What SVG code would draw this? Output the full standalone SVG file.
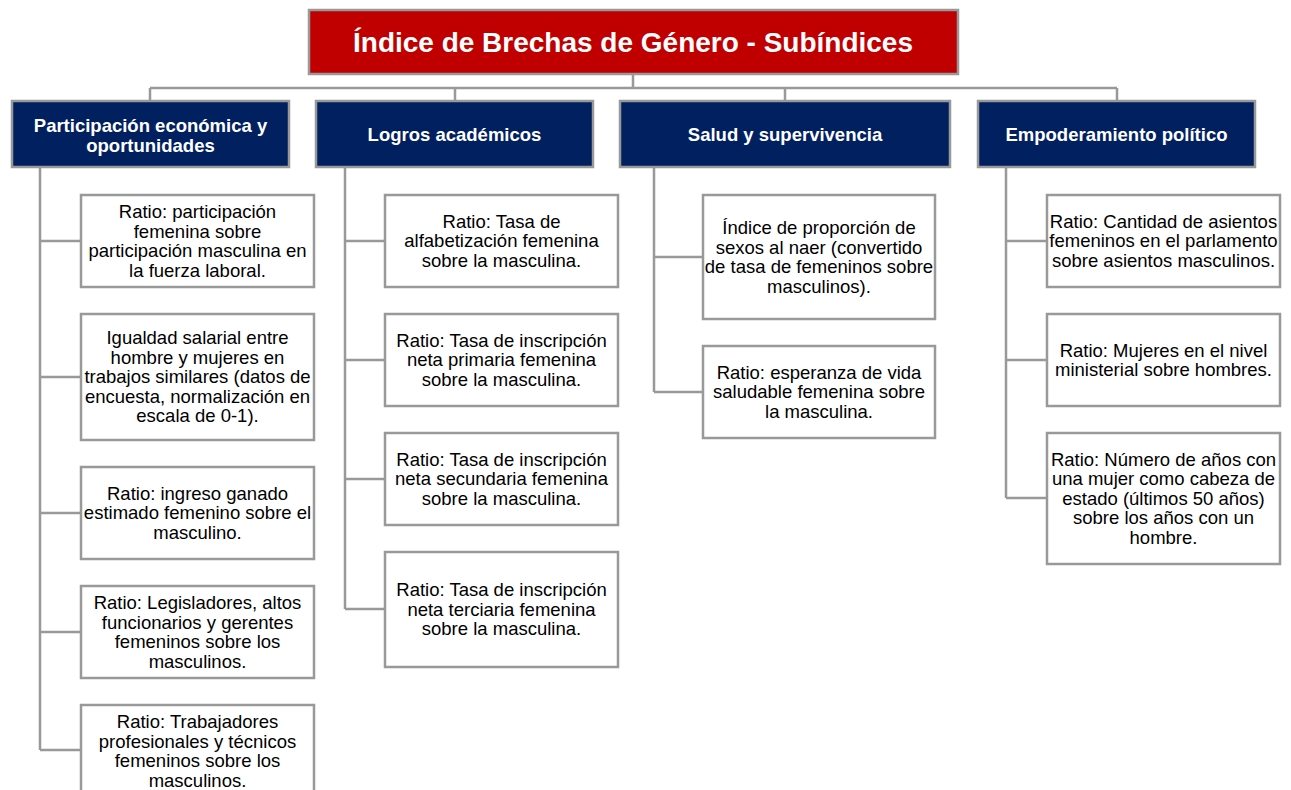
<svg xmlns="http://www.w3.org/2000/svg" width="1291" height="790" viewBox="0 0 1291 790">
<style>
.title{fill:#C00000;stroke:#999999;stroke-width:2.5}
.hdr{fill:#002060;stroke:#999999;stroke-width:2.5}
.leaf{fill:#FFFFFF;stroke:#999999;stroke-width:2.5}
.tt{font-family:"Liberation Sans",Arial,sans-serif;font-weight:bold;font-size:28px;fill:#FFFFFF;text-anchor:middle}
.ht{font-family:"Liberation Sans",Arial,sans-serif;font-weight:bold;font-size:18.5px;fill:#FFFFFF;text-anchor:middle}
.lt{font-family:"Liberation Sans",Arial,sans-serif;font-size:18.5px;fill:#000000;text-anchor:middle}
.conn{fill:none;stroke:#999999;stroke-width:2.5}
</style>
<rect width="1291" height="790" fill="#FFFFFF"/>
<g id="connectors" class="conn">
<path d="M633 74 V88 M150 88 H1117 M150 88 V101 M455 88 V101 M785 88 V101 M1117 88 V101"/>
<path d="M40 167 V750 M40 241 H81 M40 377 H81 M40 513 H81 M40 632 H81 M40 750 H81"/>
<path d="M345 167 V609 M345 241 H385 M345 360 H385 M345 479 H385 M345 609 H385"/>
<path d="M654 167 V392 M654 257 H703 M654 392 H703"/>
<path d="M1006 167 V498 M1006 241 H1047 M1006 360 H1047 M1006 498 H1047"/>
</g>
<g id="title">
<rect class="title" x="309" y="10" width="649" height="64"/>
<text class="tt" x="633" y="52" textLength="560" lengthAdjust="spacingAndGlyphs">Índice de Brechas de Género - Subíndices</text>
</g>
<g id="h1">
<rect class="hdr" x="12" y="101" width="277" height="66"/>
<text class="ht" x="150.5"><tspan x="150.5" y="132">Participación económica y</tspan><tspan x="150.5" y="152">oportunidades</tspan></text>
</g>
<g id="h2">
<rect class="hdr" x="316" y="101" width="277" height="66"/>
<text class="ht" x="454.5" y="141">Logros académicos</text>
</g>
<g id="h3">
<rect class="hdr" x="620" y="101" width="330" height="66"/>
<text class="ht" x="785" y="141">Salud y supervivencia</text>
</g>
<g id="h4">
<rect class="hdr" x="978" y="101" width="277" height="66"/>
<text class="ht" x="1116.5" y="141">Empoderamiento político</text>
</g>
<g id="c1a">
<rect class="leaf" x="81" y="195" width="233" height="92"/>
<text class="lt"><tspan x="197.5" y="218">Ratio: participación</tspan><tspan x="197.5" y="237.5">femenina sobre</tspan><tspan x="197.5" y="257">participación masculina en</tspan><tspan x="197.5" y="276.5">la fuerza laboral.</tspan></text>
</g>
<g id="c1b">
<rect class="leaf" x="81" y="314" width="233" height="126"/>
<text class="lt"><tspan x="197.5" y="344">Igualdad salarial entre</tspan><tspan x="197.5" y="363.5">hombre y mujeres en</tspan><tspan x="197.5" y="383">trabajos similares (datos de</tspan><tspan x="197.5" y="402.5">encuesta, normalización en</tspan><tspan x="197.5" y="422">escala de 0-1).</tspan></text>
</g>
<g id="c1c">
<rect class="leaf" x="81" y="467" width="233" height="92"/>
<text class="lt"><tspan x="197.5" y="499.5">Ratio: ingreso ganado</tspan><tspan x="197.5" y="519">estimado femenino sobre el</tspan><tspan x="197.5" y="538.5">masculino.</tspan></text>
</g>
<g id="c1d">
<rect class="leaf" x="81" y="586" width="233" height="92"/>
<text class="lt"><tspan x="197.5" y="609">Ratio: Legisladores, altos</tspan><tspan x="197.5" y="628.5">funcionarios y gerentes</tspan><tspan x="197.5" y="648">femeninos sobre los</tspan><tspan x="197.5" y="667.5">masculinos.</tspan></text>
</g>
<g id="c1e">
<rect class="leaf" x="81" y="705" width="233" height="95"/>
<text class="lt"><tspan x="197.5" y="728">Ratio: Trabajadores</tspan><tspan x="197.5" y="747.5">profesionales y técnicos</tspan><tspan x="197.5" y="767">femeninos sobre los</tspan><tspan x="197.5" y="786.5">masculinos.</tspan></text>
</g>
<g id="c2a">
<rect class="leaf" x="385" y="195" width="233" height="92"/>
<text class="lt"><tspan x="501.5" y="227.5">Ratio: Tasa de</tspan><tspan x="501.5" y="247">alfabetización femenina</tspan><tspan x="501.5" y="266.5">sobre la masculina.</tspan></text>
</g>
<g id="c2b">
<rect class="leaf" x="385" y="314" width="233" height="92"/>
<text class="lt"><tspan x="501.5" y="346.5">Ratio: Tasa de inscripción</tspan><tspan x="501.5" y="366">neta primaria femenina</tspan><tspan x="501.5" y="385.5">sobre la masculina.</tspan></text>
</g>
<g id="c2c">
<rect class="leaf" x="385" y="433" width="233" height="92"/>
<text class="lt"><tspan x="501.5" y="465.5">Ratio: Tasa de inscripción</tspan><tspan x="501.5" y="485">neta secundaria femenina</tspan><tspan x="501.5" y="504.5">sobre la masculina.</tspan></text>
</g>
<g id="c2d">
<rect class="leaf" x="385" y="552" width="233" height="115"/>
<text class="lt"><tspan x="501.5" y="596">Ratio: Tasa de inscripción</tspan><tspan x="501.5" y="615.5">neta terciaria femenina</tspan><tspan x="501.5" y="635">sobre la masculina.</tspan></text>
</g>
<g id="c3a">
<rect class="leaf" x="703" y="195" width="232" height="124"/>
<text class="lt"><tspan x="819" y="234">Índice de proporción de</tspan><tspan x="819" y="253.5">sexos al naer (convertido</tspan><tspan x="819" y="273">de tasa de femeninos sobre</tspan><tspan x="819" y="292.5">masculinos).</tspan></text>
</g>
<g id="c3b">
<rect class="leaf" x="703" y="346" width="232" height="92"/>
<text class="lt"><tspan x="819" y="378.5">Ratio: esperanza de vida</tspan><tspan x="819" y="398">saludable femenina sobre</tspan><tspan x="819" y="417.5">la masculina.</tspan></text>
</g>
<g id="c4a">
<rect class="leaf" x="1047" y="195" width="233" height="92"/>
<text class="lt"><tspan x="1163.5" y="227.5">Ratio: Cantidad de asientos</tspan><tspan x="1163.5" y="247">femeninos en el parlamento</tspan><tspan x="1163.5" y="266.5">sobre asientos masculinos.</tspan></text>
</g>
<g id="c4b">
<rect class="leaf" x="1047" y="314" width="233" height="92"/>
<text class="lt"><tspan x="1163.5" y="356.5">Ratio: Mujeres en el nivel</tspan><tspan x="1163.5" y="376">ministerial sobre hombres.</tspan></text>
</g>
<g id="c4c">
<rect class="leaf" x="1047" y="433" width="233" height="131"/>
<text class="lt"><tspan x="1163.5" y="465.5">Ratio: Número de años con</tspan><tspan x="1163.5" y="485">una mujer como cabeza de</tspan><tspan x="1163.5" y="504.5">estado (últimos 50 años)</tspan><tspan x="1163.5" y="524">sobre los años con un</tspan><tspan x="1163.5" y="543.5">hombre.</tspan></text>
</g>
</svg>
